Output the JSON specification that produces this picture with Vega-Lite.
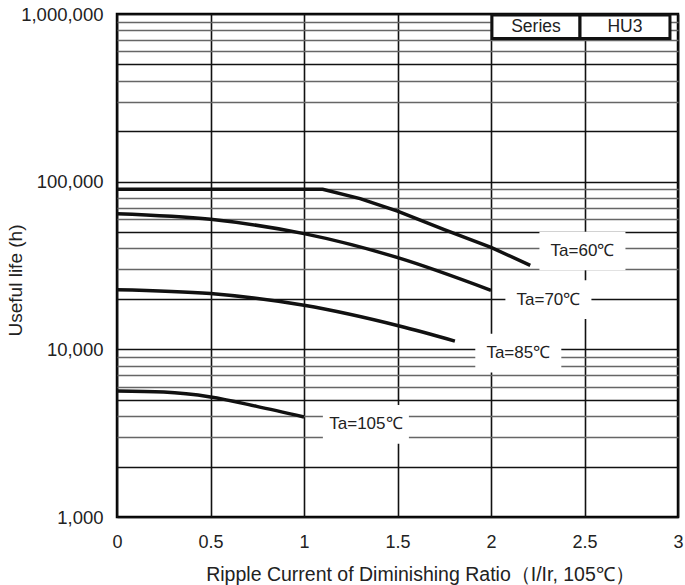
{
  "$schema": "https://vega.github.io/schema/vega-lite/v6.json",
  "autosize": "none",
  "width": 561,
  "height": 503,
  "padding": {"left": 117, "top": 14, "right": 7, "bottom": 68},
  "background": "white",
  "config": {
    "view": {"stroke": "black", "strokeWidth": 2.5},
    "font": "Liberation Sans",
    "axis": {"labelFont": "Liberation Sans", "titleFont": "Liberation Sans", "labelColor": "#222", "titleColor": "#222", "titleFontWeight": "normal", "domain": false, "ticks": false, "labelFlush": false}
  },
  "datasets": {
    "curves": [
      {"series": "60", "x": 0, "y": 90000},
      {"series": "60", "x": 0.5, "y": 90000},
      {"series": "60", "x": 1.1, "y": 90000},
      {"series": "60", "x": 1.3, "y": 79200},
      {"series": "60", "x": 1.5, "y": 66800},
      {"series": "60", "x": 1.75, "y": 51700},
      {"series": "60", "x": 2.0, "y": 40570},
      {"series": "60", "x": 2.21, "y": 31700},
      {"series": "70", "x": 0, "y": 64400},
      {"series": "70", "x": 0.5, "y": 59600},
      {"series": "70", "x": 1.0, "y": 49000},
      {"series": "70", "x": 1.51, "y": 35000},
      {"series": "70", "x": 2.0, "y": 22500},
      {"series": "85", "x": 0, "y": 22700},
      {"series": "85", "x": 0.5, "y": 21500},
      {"series": "85", "x": 1.0, "y": 18300},
      {"series": "85", "x": 1.51, "y": 13770},
      {"series": "85", "x": 1.807, "y": 11200},
      {"series": "105", "x": 0, "y": 5640},
      {"series": "105", "x": 0.25, "y": 5560},
      {"series": "105", "x": 0.5, "y": 5200},
      {"series": "105", "x": 0.747, "y": 4570},
      {"series": "105", "x": 1.0, "y": 3950}
    ],
    "labels": [
      {"label": "Ta=60℃", "x": 2.489, "y": 38600},
      {"label": "Ta=70℃", "x": 2.307, "y": 19800},
      {"label": "Ta=85℃", "x": 2.146, "y": 9500},
      {"label": "Ta=105℃", "x": 1.331, "y": 3570}
    ],
    "legend": [
      {"label": "Series", "x0": 2.005, "x1": 2.476, "y0": 715000, "y1": 985000},
      {"label": "HU3", "x0": 2.476, "x1": 2.957, "y0": 715000, "y1": 985000}
    ]
  },
  "layer": [
    {
      "data": {"name": "curves"},
      "transform": [{"filter": "datum.series != '60'"}],
      "mark": {"type": "line", "color": "#111", "strokeWidth": 3.5, "interpolate": "monotone"},
      "encoding": {
        "x": {
          "field": "x", "type": "quantitative",
          "scale": {"domain": [0, 3], "nice": false, "zero": false},
          "axis": {
            "values": [0, 0.5, 1, 1.5, 2, 2.5, 3],
            "format": "~g",
            "grid": true, "gridColor": "#111", "gridWidth": 1.6, "gridOpacity": 1,
            "labelFontSize": 18, "labelPadding": 16,
            "title": "Ripple Current of Diminishing Ratio（I/Ir, 105℃）",
            "titleFontSize": 19.5, "titleX": 303, "titleY": 63, "titleAlign": "center", "titleBaseline": "alphabetic"
          }
        },
        "y": {
          "field": "y", "type": "quantitative",
          "scale": {"type": "log", "domain": [1000, 1000000], "nice": false},
          "axis": {
            "values": [1000, 2000, 3000, 4000, 5000, 6000, 7000, 8000, 9000, 10000, 20000, 30000, 40000, 50000, 60000, 70000, 80000, 90000, 100000, 200000, 300000, 400000, 500000, 600000, 700000, 800000, 900000, 1000000],
            "labelExpr": "indexof([1000, 10000, 100000, 1000000], datum.value) >= 0 ? format(datum.value, ',') : ''",
            "grid": true,
            "gridColor": {"condition": {"test": "indexof([1000, 10000, 100000, 1000000, 2000, 20000, 200000, 5000, 50000, 500000], datum.value) >= 0", "value": "#111"}, "value": "#666"},
            "gridWidth": 1.4, "gridOpacity": 1,
            "labelFontSize": 18.5, "labelPadding": 14,
            "title": "Useful life (h)", "titleFontSize": 19, "titleX": -102, "titleY": 266, "titleAngle": -90, "titleAlign": "center", "titleBaseline": "middle"
          }
        },
        "detail": {"field": "series", "type": "nominal"}
      }
    },
    {
      "data": {"name": "curves"},
      "transform": [{"filter": "datum.series == '60'"}],
      "mark": {"type": "line", "color": "#111", "strokeWidth": 3.5, "interpolate": "linear"},
      "encoding": {
        "x": {"field": "x", "type": "quantitative"},
        "y": {"field": "y", "type": "quantitative"}
      }
    },
    {
      "data": {"name": "labels"},
      "mark": {"type": "point", "shape": "M-1,-0.45L1,-0.45L1,0.45L-1,0.45Z", "size": 7400, "filled": true, "fill": "white", "opacity": 1, "strokeWidth": 0},
      "encoding": {
        "x": {"field": "x", "type": "quantitative"},
        "y": {"field": "y", "type": "quantitative"}
      }
    },
    {
      "data": {"name": "labels"},
      "mark": {"type": "text", "fontSize": 17, "color": "#222", "font": "Liberation Sans"},
      "encoding": {
        "x": {"field": "x", "type": "quantitative"},
        "y": {"field": "y", "type": "quantitative"},
        "text": {"field": "label"}
      }
    },
    {
      "data": {"name": "legend"},
      "mark": {"type": "rect", "fill": "white", "stroke": "#111", "strokeWidth": 3},
      "encoding": {
        "x": {"field": "x0", "type": "quantitative"},
        "x2": {"field": "x1"},
        "y": {"field": "y0", "type": "quantitative"},
        "y2": {"field": "y1"}
      }
    },
    {
      "data": {"name": "legend"},
      "transform": [
        {"calculate": "(datum.x0 + datum.x1) / 2", "as": "xm"},
        {"calculate": "sqrt(datum.y0 * datum.y1)", "as": "ym"}
      ],
      "mark": {"type": "text", "fontSize": 17.5, "color": "#222", "font": "Liberation Sans"},
      "encoding": {
        "x": {"field": "xm", "type": "quantitative"},
        "y": {"field": "ym", "type": "quantitative"},
        "text": {"field": "label"}
      }
    }
  ]
}
